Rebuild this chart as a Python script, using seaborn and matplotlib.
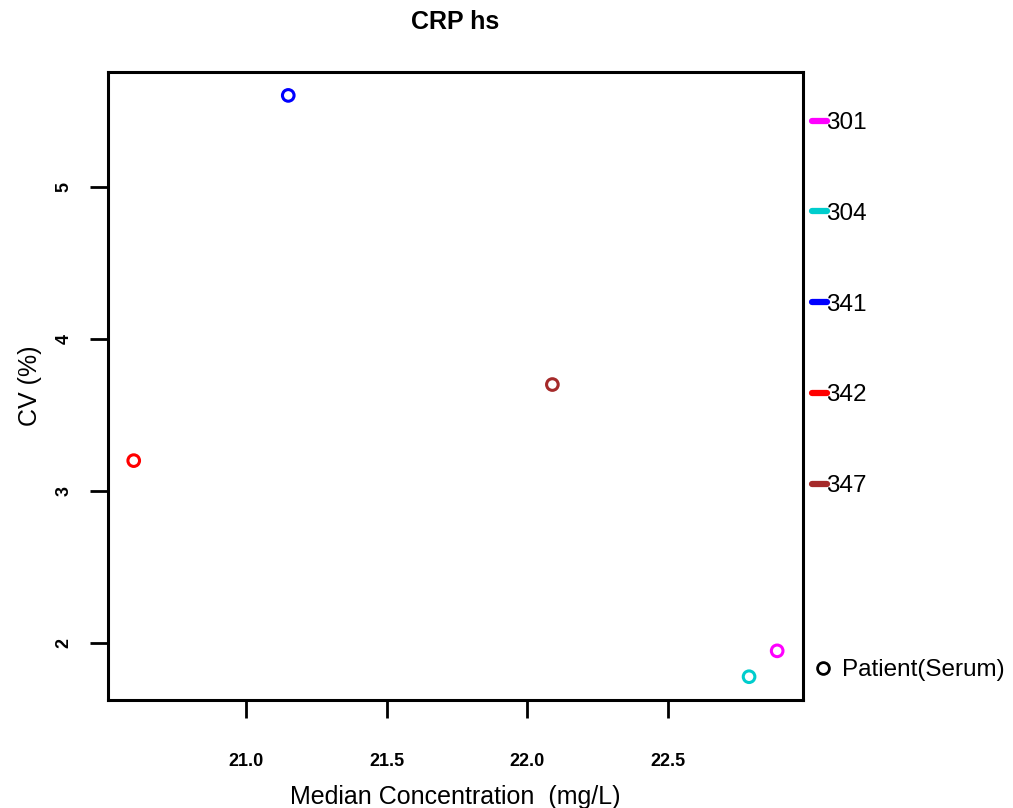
import matplotlib
matplotlib.use("Agg")
import matplotlib.pyplot as plt
from matplotlib.lines import Line2D
import seaborn as sns
import pandas as pd

# Data
labs = ["301", "304", "341", "342", "347"]
colors = ["#FF00FF", "#00CDCD", "#0000FF", "#FF0000", "#A52A2A"]
median_conc = [22.89, 22.79, 21.15, 20.60, 22.09]
cv_pct = [1.95, 1.78, 5.60, 3.20, 3.70]
xticks = [21.0, 21.5, 22.0, 22.5]
yticks = [2, 3, 4, 5]

df = pd.DataFrame({"lab": labs, "x": median_conc, "y": cv_pct})

sns.set_theme(style="white")
plt.rcParams["font.family"] = ["Liberation Sans", "DejaVu Sans"]
plt.rcParams["text.color"] = "black"
plt.rcParams["axes.labelcolor"] = "black"
plt.rcParams["xtick.color"] = "black"
plt.rcParams["ytick.color"] = "black"

fig = plt.figure(figsize=(10.13, 8.08), dpi=100)
ax = fig.add_axes([0.1066, 0.1337, 0.686, 0.777])

for lab, col in zip(labs, colors):
    sub = df[df["lab"] == lab]
    sns.scatterplot(data=sub, x="x", y="y", ax=ax, s=70, marker="o",
                    facecolors="none", edgecolor=col, linewidth=2.2, legend=False)

# R-style 4% padding
xr = max(median_conc) - min(median_conc)
yr = max(cv_pct) - min(cv_pct)
ax.set_xlim(min(median_conc) - 0.04 * xr, max(median_conc) + 0.04 * xr)
ax.set_ylim(min(cv_pct) - 0.04 * yr, max(cv_pct) + 0.04 * yr)

ax.set_xticks(xticks)
ax.set_xticklabels([f"{v:.1f}" for v in xticks], fontsize=13, fontweight="bold")
ax.set_yticks(yticks)
ax.set_yticklabels([str(v) for v in yticks], fontsize=13, fontweight="bold",
                   rotation=90, va="center")
ax.tick_params(axis="both", direction="out", length=13, width=2, color="black",
               labelcolor="black", bottom=True, left=True)
ax.tick_params(axis="x", pad=25)
ax.tick_params(axis="y", pad=12.5)
for sp in ax.spines.values():
    sp.set_visible(True)
    sp.set_color("black")
    sp.set_linewidth(2.2)

ax.set_xlabel("Median Concentration  (mg/L)", fontsize=18, labelpad=11)
ax.set_ylabel("CV (%)", fontsize=18, labelpad=10)
ax.set_title("CRP hs", fontsize=18, fontweight="bold", pad=31)

handles = [Line2D([0], [0], color=c, lw=4.5, solid_capstyle="round") for c in colors]
leg = ax.legend(handles, labs, loc="upper left", bbox_to_anchor=(1.013, 0.9364),
                frameon=False, fontsize=17.5, handlelength=0.6, handletextpad=0.0,
                labelspacing=2.83, borderaxespad=0, borderpad=0)
ax.add_artist(leg)
h2 = [Line2D([0], [0], marker="o", ls="none", mfc="none", mec="black", mew=2, ms=8.5)]
ax.legend(h2, ["Patient(Serum)"], loc="center left", bbox_to_anchor=(1.0155, 0.047),
          frameon=False, fontsize=17.5, handlelength=0.8, handletextpad=0.35,
          borderaxespad=0, borderpad=0)

fig.savefig("out.png", dpi=100)
